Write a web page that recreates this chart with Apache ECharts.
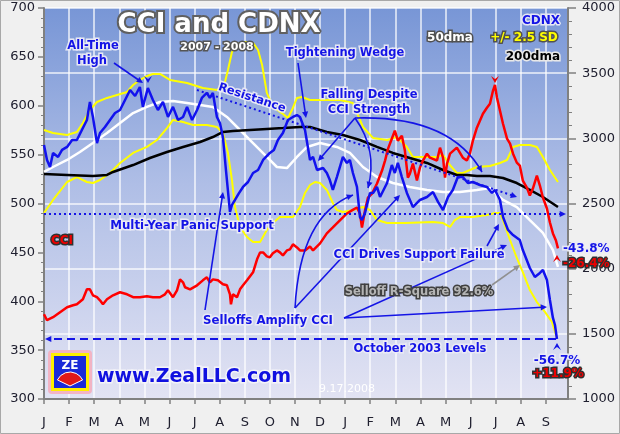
<!DOCTYPE html>
<html><head><meta charset="utf-8">
<script src="https://cdn.jsdelivr.net/npm/echarts@6/dist/echarts.min.js"></script>
<style>html,body{margin:0;padding:0;background:#f0f0f0}#c{width:620px;height:434px}</style>
</head><body><div id="c"></div>
<script>
// x = months since 1 Jan 2007
const monthLabels = ['J','F','M','A','M','J','J','A','S','O','N','D','J','F','M','A','M','J','J','A','S'];
const leftTicks = [300, 700, 50];
const rightTicks = [1000, 4000, 500];

// CDNX index (right axis)
const cdnx = [[0,2949],[0.12,2834],[0.24,2780],[0.36,2888],[0.56,2857],[0.72,2911],[0.92,2934],[1.12,2987],[1.31,2987],[1.51,3064],[1.71,3141],[1.83,3279],[1.95,3164],[2.11,2964],[2.23,3041],[2.43,3087],[2.63,3141],[2.83,3194],[3.03,3217],[3.23,3294],[3.43,3371],[3.63,3325],[3.82,3394],[3.94,3241],[4.14,3386],[4.34,3294],[4.54,3217],[4.74,3279],[4.94,3164],[5.14,3241],[5.34,3141],[5.54,3164],[5.70,3241],[5.90,3141],[6.10,3217],[6.29,3310],[6.49,3348],[6.61,3310],[6.73,3348],[6.89,3164],[7.01,3118],[7.13,3010],[7.25,2757],[7.41,2435],[7.49,2489],[7.61,2527],[7.77,2580],[7.93,2627],[8.13,2665],[8.33,2734],[8.53,2757],[8.73,2834],[9.0,2888],[9.16,2911],[9.32,2987],[9.52,3041],[9.72,3141],[9.92,3164],[10.08,3179],[10.2,3164],[10.4,3064],[10.6,2834],[10.72,2857],[10.88,2757],[11.12,2772],[11.27,2734],[11.39,2680],[11.51,2604],[11.67,2703],[11.91,2857],[12.07,2811],[12.19,2834],[12.31,2734],[12.47,2627],[12.59,2396],[12.67,2373],[12.79,2427],[12.99,2581],[13.11,2581],[13.27,2627],[13.39,2550],[13.67,2657],[13.86,2795],[13.98,2734],[14.1,2811],[14.26,2703],[14.46,2581],[14.7,2473],[14.98,2527],[15.26,2550],[15.5,2588],[15.7,2512],[15.9,2450],[16.1,2550],[16.29,2604],[16.49,2703],[16.69,2703],[16.89,2657],[17.09,2665],[17.37,2642],[17.65,2627],[17.85,2581],[17.97,2604],[18.17,2527],[18.29,2396],[18.49,2297],[18.69,2258],[18.96,2220],[19.08,2143],[19.36,2005],[19.56,1936],[19.76,1967],[19.88,1990],[20.04,1913],[20.16,1760],[20.28,1622],[20.36,1568],[20.44,1460]];

// CCI (left axis)
const cci = [[0,386.7],[0.12,380.6],[0.36,383.7],[0.64,388.8],[0.92,393.9],[1.16,395.9],[1.31,396.9],[1.55,402],[1.71,412.2],[1.83,412.2],[1.95,406.1],[2.11,404.1],[2.23,401],[2.35,396.9],[2.51,402],[2.75,406.1],[3.03,409.2],[3.31,407.1],[3.55,404.1],[3.82,404.1],[4.10,405.1],[4.34,404.1],[4.62,404.1],[4.82,407.1],[4.94,411.2],[5.14,404.1],[5.30,411.2],[5.42,422.4],[5.54,419.4],[5.62,414.3],[5.82,412.2],[6.10,416.3],[6.33,421.4],[6.49,424.5],[6.61,419.4],[6.73,422.4],[6.93,421.4],[7.13,417.3],[7.29,416.3],[7.41,407.1],[7.45,396.9],[7.53,407.1],[7.69,404.1],[7.81,412.2],[7.93,416.3],[8.09,421.4],[8.21,425.5],[8.33,429.6],[8.49,442.9],[8.61,450],[8.73,450],[8.88,445.9],[9.0,444.9],[9.12,449],[9.28,452],[9.40,450],[9.52,446.9],[9.68,452],[9.80,453.1],[9.92,458.2],[10.08,455.1],[10.20,452],[10.40,452],[10.60,456.1],[10.72,452],[11.00,459.2],[11.27,469.4],[11.51,475.5],[11.79,482.7],[12.07,489.8],[12.27,492.9],[12.47,495.9],[12.59,489.8],[12.67,475.5],[12.79,492.9],[12.91,506.1],[13.07,510.2],[13.27,520.4],[13.47,533.7],[13.59,543.9],[13.71,556.1],[13.86,566.3],[13.98,574.5],[14.10,564.3],[14.26,569.4],[14.38,554.1],[14.50,526.5],[14.58,530.6],[14.70,540.8],[14.86,523.5],[14.98,536.7],[15.10,543.9],[15.26,551],[15.38,546.9],[15.66,543.9],[15.78,557.1],[15.90,546.9],[15.98,526.5],[16.06,540.8],[16.18,551],[16.45,557.1],[16.69,546.9],[16.85,543.9],[16.97,551],[17.09,564.3],[17.25,577.6],[17.37,584.7],[17.49,591.8],[17.65,598],[17.77,602],[17.89,615.3],[17.97,621.4],[18.05,608.2],[18.17,594.9],[18.29,581.6],[18.45,566.3],[18.57,561.2],[18.69,551],[18.84,541.8],[18.96,538.8],[19.08,523.5],[19.24,516.3],[19.36,508.2],[19.48,515.3],[19.64,528.6],[19.76,518.4],[19.88,506.1],[20.04,494.9],[20.16,480.6],[20.28,469.4],[20.40,462.2],[20.48,454.1]];

// CDNX 200-day moving average
const dma200 = [[0,2726],[0.92,2719],[1.95,2711],[2.51,2719],[2.75,2742],[3.55,2795],[4.22,2849],[4.90,2895],[5.54,2934],[6.22,2972],[6.73,3010],[7.13,3049],[7.53,3056],[8.21,3064],[8.88,3072],[9.52,3079],[10.20,3087],[10.60,3087],[11.27,3049],[11.91,3026],[12.59,2987],[13.27,2934],[13.90,2888],[14.58,2849],[15.26,2811],[15.90,2757],[16.45,2719],[16.85,2719],[17.25,2711],[17.77,2711],[18.29,2696],[18.84,2657],[19.36,2604],[19.88,2550],[20.48,2473]];

// CDNX 50-day moving average
const dma50 = [[0,2742],[0.36,2780],[0.92,2834],[1.43,2895],[1.95,2964],[2.51,3041],[3.03,3118],[3.55,3194],[4.10,3241],[4.62,3279],[5.14,3287],[5.70,3271],[6.22,3256],[6.73,3241],[7.29,3164],[7.81,3064],[8.33,2964],[8.88,2857],[9.28,2780],[9.68,2772],[10.08,2857],[10.48,2934],[11.00,2964],[11.67,2934],[12.19,2888],[12.71,2780],[13.27,2703],[13.90,2657],[14.58,2627],[15.26,2604],[15.90,2588],[16.57,2588],[17.25,2604],[17.77,2619],[18.29,2527],[18.84,2473],[19.36,2373],[19.88,2274],[20.28,2143],[20.48,2013]];

// +2.5 SD band
const bandUpper = [[0,3064],[0.36,3041],[0.92,3026],[1.31,3049],[1.55,3118],[1.83,3217],[2.11,3279],[2.51,3310],[2.91,3333],[3.31,3356],[3.55,3409],[3.82,3448],[4.10,3478],[4.34,3494],[4.62,3494],[5.02,3448],[5.70,3425],[6.33,3386],[6.89,3371],[7.17,3402],[7.33,3524],[7.49,3663],[7.69,3724],[8.01,3739],[8.33,3732],[8.53,3678],[8.69,3563],[8.88,3348],[9.12,3241],[9.48,3194],[9.72,3156],[9.88,3217],[10.08,3310],[10.28,3317],[10.60,3294],[11.12,3294],[11.79,3294],[12.31,3271],[12.71,3087],[13.11,3003],[13.67,2987],[14.06,3010],[14.46,2934],[14.70,2857],[15.10,2857],[15.66,2857],[15.90,2872],[16.18,2795],[16.45,2734],[16.69,2734],[16.97,2757],[17.25,2780],[17.77,2788],[18.17,2811],[18.45,2834],[18.69,2934],[18.96,2949],[19.36,2949],[19.64,2934],[19.88,2857],[20.16,2757],[20.48,2665]];

// -2.5 SD band
const bandLower = [[0,2427],[0.36,2527],[0.92,2665],[1.31,2703],[1.71,2665],[1.95,2657],[2.23,2680],[2.63,2734],[3.03,2811],[3.55,2888],[4.10,2934],[4.50,2987],[4.90,3079],[5.14,3141],[5.54,3125],[5.94,3102],[6.49,3102],[6.89,3087],[7.13,3041],[7.33,2888],[7.49,2680],[7.61,2473],[7.81,2320],[8.09,2243],[8.33,2205],[8.61,2205],[8.88,2297],[9.12,2350],[9.40,2396],[9.92,2396],[10.20,2473],[10.40,2581],[10.60,2642],[10.80,2665],[11.00,2657],[11.27,2604],[11.51,2504],[11.67,2450],[11.91,2435],[12.31,2450],[12.71,2473],[12.99,2450],[13.27,2373],[13.67,2350],[14.38,2350],[15.50,2358],[15.90,2350],[16.18,2320],[16.37,2373],[16.57,2396],[17.09,2396],[17.65,2412],[17.97,2427],[18.17,2427],[18.29,2373],[18.57,2220],[18.84,2082],[19.08,1974],[19.36,1836],[19.64,1744],[19.96,1668],[20.24,1591],[20.44,1468]];

const BLUE = '#1414e6', HALO = 'rgba(235,235,245,0.95)', FONT = 'DejaVu Sans';

function txt(s, x, y, o) {
  o = o || {};
  const st = {
    text: s, x: 0, y: 0,
    font: (o.weight || 'bold') + ' ' + (o.size || 11) + 'px "' + (o.family || FONT) + '"',
    fill: o.fill || BLUE, stroke: o.stroke === undefined ? HALO : o.stroke,
    lineWidth: o.lw === undefined ? 3 : o.lw,
    textAlign: o.align || 'center', align: o.align || 'center',
    textVerticalAlign: 'middle', verticalAlign: 'middle'
  };
  return { type: 'text', x: x, y: y, rotation: o.rot || 0, z: o.z || 120, style: st };
}
function head(x2, y2, ang, color, size) {
  size = size || 7;
  const a1 = ang + Math.PI - 0.45, a2 = ang + Math.PI + 0.45;
  return { type: 'polygon', z: 110, shape: { points: [[x2, y2], [x2 + size * Math.cos(a1), y2 + size * Math.sin(a1)], [x2 + size * Math.cos(a2), y2 + size * Math.sin(a2)]] }, style: { fill: color } };
}
function arrow(x1, y1, x2, y2, color, w, dash) {
  color = color || BLUE;
  const ang = Math.atan2(y2 - y1, x2 - x1);
  const ex = x2 - 4 * Math.cos(ang), ey = y2 - 4 * Math.sin(ang);
  const st = { stroke: color, lineWidth: w || 1.6 };
  if (dash) st.lineDash = dash;
  return [{ type: 'line', z: 110, shape: { x1: x1, y1: y1, x2: ex, y2: ey }, style: st }, head(x2, y2, ang, color)];
}
function curve(x1, y1, cx, cy, x2, y2, color) {
  color = color || BLUE;
  const ang = Math.atan2(y2 - cy, x2 - cx);
  return [{ type: 'bezierCurve', z: 110, shape: { x1: x1, y1: y1, cpx1: cx, cpy1: cy, x2: x2, y2: y2 }, style: { stroke: color, lineWidth: 1.6, fill: null } }, head(x2, y2, ang, color)];
}
function chevron(x, y, dir, color) {
  const d = dir; // 1 = points down, -1 = points up
  return { type: 'polygon', z: 115, shape: { points: [[x - 4, y - 4 * d], [x, y + 3 * d], [x + 4, y - 4 * d], [x, y - 1 * d]] }, style: { fill: color } };
}

const G = [];
G.push({ type: 'rect', z: 200, shape: { x: 0.5, y: 0.5, width: 619, height: 433 }, style: { fill: null, stroke: '#a8a8a8', lineWidth: 1 } });
// title block
G.push(txt('CCI and CDNX', 219, 25, { size: 26, fill: '#ffffff', stroke: '#606060', lw: 4 }));
G.push(txt('2007 - 2008', 217, 47, { size: 11, fill: '#ffffff', stroke: '#555555', lw: 3 }));
G.push(txt('CDNX', 560, 21, { size: 12, align: 'right' }));
G.push(txt('50dma', 450, 38, { size: 12, fill: '#ffffff', stroke: '#505050', lw: 3 }));
G.push(txt('+/- 2.5 SD', 524, 38, { size: 12, fill: '#ffff00', stroke: '#505050', lw: 3 }));
G.push(txt('200dma', 560, 57, { size: 12, fill: '#000000', stroke: '#e8e8e8', lw: 3, align: 'right' }));
// All-Time High
G.push(txt('All-Time', 93, 46, { size: 11.5 }));
G.push(txt('High', 92, 61, { size: 11.5 }));
G.push(...arrow(114, 63, 143, 83));
G.push(chevron(148, 80, 1, BLUE));
// Resistance
G.push(txt('Resistance', 252, 98, { size: 11.5, rot: -0.32 }));
G.push(...arrow(197, 90, 517, 197, BLUE, 2, [2, 3]));
// Tightening Wedge
G.push(txt('Tightening Wedge', 345, 53, { size: 11.5 }));
G.push(...arrow(298, 63, 306, 118));
// Falling despite
G.push(txt('Falling Despite', 369, 95, { size: 11.5 }));
G.push(txt('CCI Strength', 369, 110, { size: 11.5 }));
G.push(...arrow(355, 118, 318, 161));
G.push(...curve(355, 118, 378, 150, 368, 188));
G.push(...curve(355, 118, 450, 115, 482, 172));
// Multi-year support
G.push(...arrow(44, 214, 566, 214, BLUE, 2, [2, 3]));
G.push(txt('Multi-Year Panic Support', 192, 226, { size: 11.8 }));
G.push(txt('CCI', 62, 241, { size: 12, fill: '#ee0000', stroke: '#303030', lw: 3 }));
// CCI drives support failure
G.push(txt('CCI Drives Support Failure', 419, 255, { size: 11.5 }));
G.push(...arrow(487, 246, 499, 224));
// Selloff R-Square
G.push(txt('Selloff R-Square 92.6%', 419, 292, { size: 11.5, fill: '#b4b4b4', stroke: '#404040', lw: 3 }));
G.push(...arrow(492, 285, 520, 265, '#909090'));
// Selloffs amplify CCI
G.push(txt('Selloffs Amplify CCI', 268, 321, { size: 11.8 }));
G.push(...arrow(205, 310, 223, 192));
G.push(...curve(295, 308, 300, 215, 353, 195));
G.push(...arrow(295, 308, 400, 195));
G.push(...arrow(344, 318, 507, 245));
G.push(...arrow(344, 318, 547, 307));
// October 2003
G.push(...arrow(556, 339, 45, 339, BLUE, 2, [8, 5]));
G.push(txt('October 2003 Levels', 420, 349, { size: 11.5 }));
// end labels
G.push(chevron(495, 80, 1, '#ee0000'));
G.push(chevron(557, 258, -1, '#ee0000'));
G.push(chevron(557, 346, -1, BLUE));
G.push(txt('-43.8%', 563, 249, { size: 12, align: 'left' }));
G.push(txt('-26.4%', 563, 264, { size: 12, align: 'left', fill: '#ee0000', stroke: '#303030' }));
G.push(txt('-56.7%', 557, 361, { size: 12 }));
G.push(txt('+11.9%', 558, 374, { size: 12, fill: '#ee0000', stroke: '#303030' }));
G.push(txt('9.17.2008', 347, 389, { size: 11, weight: 'normal', fill: '#ffffff', stroke: 'none', lw: 0 }));
// logo
G.push({ type: 'rect', z: 120, shape: { x: 48, y: 350, width: 44, height: 44, r: 4 }, style: { fill: '#f2b4c4' } });
G.push({ type: 'rect', z: 121, shape: { x: 51, y: 353, width: 38, height: 38 }, style: { fill: '#fff000' } });
G.push({ type: 'rect', z: 122, shape: { x: 54, y: 356, width: 32, height: 32 }, style: { fill: '#1a2ad8' } });
G.push({ type: 'sector', z: 123, shape: { cx: 70, cy: 386, r0: 0, r: 14, startAngle: Math.PI + 0.45, endAngle: 2 * Math.PI - 0.45 }, style: { fill: '#e01818', stroke: '#ffffff', lineWidth: 1 } });
G.push(txt('ZE', 70, 366, { size: 12, fill: '#ffffff', stroke: 'none', lw: 0, z: 124 }));
G.push(txt('www.ZealLLC.com', 97, 377, { size: 19, align: 'left', fill: '#1010e0', stroke: '#f4f4f8', lw: 3 }));

const lineS = (name, data, color, w, yi, z) => ({
  name: name, type: 'line', data: data, yAxisIndex: yi, showSymbol: false, symbol: 'none',
  lineStyle: { color: color, width: w }, z: z, animation: false, silent: true
});

const option = {
  animation: false,
  backgroundColor: '#f0f0f0',
  grid: { left: 44, right: 52, top: 8, bottom: 35, show: true, borderWidth: 0,
    backgroundColor: { type: 'linear', x: 0, y: 0, x2: 0, y2: 1, colorStops: [
      { offset: 0, color: '#7896d6' }, { offset: 0.45, color: '#afbee6' }, { offset: 1, color: '#e2e3f3' }] } },
  xAxis: { type: 'value', min: 0, max: 20.88, interval: 1,
    axisLine: { show: true, onZero: false, lineStyle: { color: '#808080', width: 2 } },
    axisTick: { show: true, length: 5, lineStyle: { color: '#808080', width: 1.5 } },
    axisLabel: { margin: 17, color: '#202030', fontSize: 13, fontFamily: FONT, showMaxLabel: false,
      formatter: v => monthLabels[Math.round(v)] || '' },
    splitLine: { show: true, lineStyle: { color: 'rgba(255,255,255,0.85)', width: 1.5 } } },
  yAxis: [
    { type: 'value', min: leftTicks[0], max: leftTicks[1], interval: leftTicks[2], position: 'left',
      axisLine: { show: true, lineStyle: { color: '#808080', width: 2 } },
      axisTick: { show: true, length: 6, lineStyle: { color: '#808080', width: 1.5 } },
      minorTick: { show: true, splitNumber: 5, length: 3, lineStyle: { color: '#808080' } },
      axisLabel: { margin: 9, color: '#202030', fontSize: 13, fontFamily: FONT, formatter: v => String(v) },
      splitLine: { show: false } },
    { type: 'value', min: rightTicks[0], max: rightTicks[1], interval: rightTicks[2], position: 'right',
      axisLine: { show: true, lineStyle: { color: '#808080', width: 2 } },
      axisTick: { show: true, length: 8, lineStyle: { color: '#808080', width: 1.5 } },
      minorTick: { show: true, splitNumber: 5, length: 4, lineStyle: { color: '#808080' } },
      axisLabel: { margin: 14, color: '#202030', fontSize: 13, fontFamily: FONT, formatter: v => String(v) },
      splitLine: { show: true, lineStyle: { color: 'rgba(255,255,255,0.85)', width: 1.5 } } }
  ],
  series: [
    lineS('+2.5SD', bandUpper, '#ffff00', 2, 1, 2),
    lineS('-2.5SD', bandLower, '#ffff00', 2, 1, 2),
    lineS('50dma', dma50, '#ffffff', 2.5, 1, 3),
    lineS('200dma', dma200, '#000000', 2.5, 1, 3),
    lineS('CCI', cci, '#ff0000', 2.5, 0, 4),
    lineS('CDNX', cdnx, '#1212ee', 2.5, 1, 5)
  ],
  graphic: { elements: G }
};
const chart = echarts.init(document.getElementById('c'), null, { renderer: 'canvas' });
chart.setOption(option);
</script></body></html>
